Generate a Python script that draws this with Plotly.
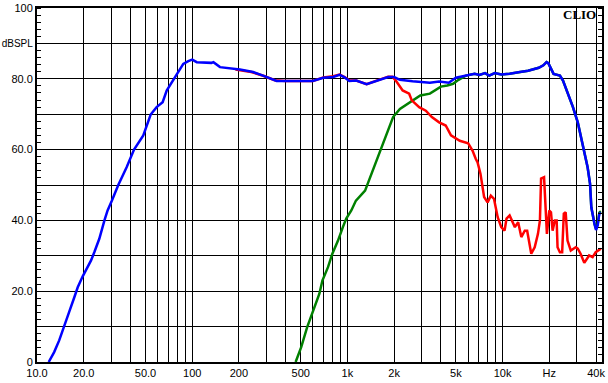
import plotly.graph_objects as go

# ---------------- data ----------------
blue_f = [11.9, 12.9, 13.9, 15.0, 16.1, 17.4, 18.3, 19.7, 20.7, 22.3, 23.4, 25.2, 27.2, 28.5, 30.4,
          33.4, 37.8, 42.2, 48.4, 54.0, 59.0, 64.5, 68.5, 76.3, 81.3, 87.6, 94.4, 100, 107, 133, 137,
          151, 203, 247, 286, 333, 350, 450, 597, 700, 810, 890, 960, 1030, 1140, 1330, 1540,
          1700, 1830, 2000, 2180, 2630, 3400, 3900, 4500, 5000, 5700, 6600, 7100, 7700, 8200,
          8900, 9800, 11100, 12900, 14600, 17100, 18300, 19200, 19700, 21300, 23400, 24500,
          26400, 28400, 30500, 32000, 33600, 35300, 36600, 37300, 39100, 40000, 41000, 42000, 43000]
blue_db = [0.0, 2.8, 6.1, 10.0, 14.1, 18.3, 21.1, 24.2, 25.9, 28.7, 31.0, 34.8, 40.0, 42.8, 45.6,
           50.0, 55.0, 60.0, 64.0, 69.9, 72.0, 73.4, 76.7, 80.0, 82.3, 84.2, 85.0, 85.4, 84.7, 84.5, 84.7,
           83.3, 82.6, 81.9, 80.9, 79.7, 79.4, 79.4, 79.4, 80.3, 80.5, 81.1, 80.4, 79.4, 79.5, 78.5, 79.5,
           80.0, 80.5, 80.5, 79.7, 79.3, 78.9, 79.2, 78.9, 80.3, 80.9, 81.4, 81.1, 81.6, 80.9,
           81.6, 81.2, 81.4, 81.9, 82.3, 83.1, 83.8, 84.7, 84.4, 81.4, 80.9, 79.5,
           75.8, 72.0, 67.7, 63.5, 59.7, 55.0, 50.3, 43.7, 39.0, 37.3, 38.6, 41.9, 42.2]

red_f = [190, 240, 290, 340, 400, 600, 700, 810, 890, 960, 1030, 1140, 1330, 1540, 1700, 1830,
         1950, 2050, 2270, 2500, 2600, 2900, 3200, 3500, 3900, 4100, 4300, 4650, 5300, 6000, 6400,
         6700, 6900, 7200, 7600, 8000, 8400, 8800, 9300, 9800, 10300, 10600, 11100, 12000, 12600,
         13200, 13900, 14400, 15300, 16100, 16900, 17400, 17700, 18500, 19000, 19300, 20000, 20500,
         21000, 21700, 22300, 22600, 23400, 24200, 24800, 25500, 26200, 27500, 29600, 30500, 31800,
         33600, 36100, 38000, 39800, 43000]
red_db = [82.6, 81.9, 80.8, 79.6, 79.4, 79.4, 80.4, 80.7, 81.2, 80.5, 79.5, 79.5, 78.5, 79.5, 80.0, 80.6,
          80.6, 79.5, 76.7, 75.8, 73.9, 72.0, 71.0, 69.2, 67.7, 67.3, 66.8, 64.0, 62.5, 61.8, 59.7,
          57.5, 56.4, 53.2, 46.6, 45.1, 47.0, 46.1, 40.9, 38.1, 37.1, 40.5, 41.4, 38.1, 39.5,
          35.3, 37.1, 37.1, 30.6, 32.4, 36.2, 40.0, 51.8, 52.2, 42.8, 36.2, 42.8, 42.3,
          37.1, 40.0, 40.0, 32.4, 31.0, 31.0, 41.9, 42.3, 34.3, 31.5, 32.4, 32.0, 30.6,
          28.0, 30.1, 29.6, 31.0, 32.0]

green_f = [464, 504, 550, 600, 660, 690, 750, 800, 870, 935, 983, 1060, 1135, 1300, 1540, 1790,
           1970, 2180, 2540, 2950, 3400, 3650, 4000, 4400, 4800, 5200, 5800, 6600, 7100, 7700,
           8200, 8900, 9800, 11100, 12900, 14600, 17100, 18300, 19200, 19700, 21300, 23400, 24500,
           26400, 28400, 30500, 32000, 33600, 35300, 36600, 37300, 39100, 40000, 41000, 42000, 43000]
green_db = [0.0, 4.2, 9.8, 14.5, 19.3, 23.0, 26.8, 30.6, 34.3, 38.1, 40.5, 42.8, 45.6, 48.4, 56.9, 64.0,
            69.2, 71.5, 73.4, 75.3, 75.8, 76.7, 77.8, 78.1, 78.6, 79.7, 80.9, 81.4, 81.1, 81.6,
            80.9, 81.6, 81.2, 81.4, 81.9, 82.3, 83.1, 83.8, 84.7, 84.4, 81.4, 80.9, 79.5,
            75.8, 72.0, 67.7, 63.5, 59.7, 55.0, 50.3, 43.7, 39.0, 37.6, 39.0, 42.2, 42.6]

x_tickvals = [10, 20, 30, 40, 50, 60, 70, 80, 90,
              100, 200, 300, 400, 500, 600, 700, 800, 900,
              1000, 2000, 3000, 4000, 5000, 6000, 7000, 8000, 9000,
              10000, 20000, 30000, 40000]
x_labels = {10: "10.0", 20: "20.0", 50: "50.0", 100: "100", 200: "200", 500: "500",
            1000: "1k", 2000: "2k", 5000: "5k", 10000: "10k", 20000: "Hz", 40000: "40k"}
y_tickvals = [0, 10, 20, 30, 40, 50, 60, 70, 80, 90, 100]
y_labels = {0: "0", 20: "20.0", 40: "40.0", 60: "60.0", 80: "80.0",
            90: '<span style="font-size:10px">dBSPL</span>', 100: "100"}

# ---------------- figure ----------------
fig = go.Figure()
fig.add_trace(go.Scatter(x=green_f, y=green_db, mode="lines",
                         line=dict(color="#008000", width=2.5), hoverinfo="skip"))
fig.add_trace(go.Scatter(x=red_f, y=red_db, mode="lines",
                         line=dict(color="#FF0000", width=2.5), hoverinfo="skip"))
fig.add_trace(go.Scatter(x=blue_f, y=blue_db, mode="lines",
                         line=dict(color="#0000FF", width=2.5), hoverinfo="skip"))
# dummy trace so the right-hand tick axis is drawn
fig.add_trace(go.Scatter(x=[None], y=[None], yaxis="y2", mode="lines", hoverinfo="skip"))

font = dict(family="Liberation Sans, Arial, sans-serif", size=11, color="black")

fig.update_layout(
    width=608, height=383,
    margin=dict(l=37, r=6, t=8, b=21, autoexpand=False),
    paper_bgcolor="white", plot_bgcolor="white",
    showlegend=False,
    font=font,
    xaxis=dict(
        type="log", range=[1, 4.6405], automargin=False,
        tickmode="array", tickvals=x_tickvals,
        ticktext=[x_labels.get(v, "") for v in x_tickvals],
        showgrid=True, gridcolor="black", gridwidth=1,
        showline=True, linecolor="black", linewidth=2, mirror=True,
        ticks="", zeroline=False, tickfont=font, tickangle=0,
    ),
    yaxis=dict(
        range=[0, 100], automargin=False,
        tickmode="array", tickvals=y_tickvals,
        ticktext=[y_labels.get(v, "") for v in y_tickvals],
        showgrid=True, gridcolor="black", gridwidth=1,
        showline=True, linecolor="black", linewidth=2, mirror=True,
        ticks="", zeroline=False, tickfont=font,
        minor=dict(dtick=2, ticks="inside", ticklen=4, tickcolor="black",
                   tickwidth=1, showgrid=False),
    ),
    yaxis2=dict(
        range=[0, 100], overlaying="y", side="right", automargin=False,
        showticklabels=False, showgrid=False, zeroline=False, showline=False,
        tickmode="array", tickvals=y_tickvals, ticks="",
        minor=dict(dtick=2, ticks="inside", ticklen=4, tickcolor="black",
                   tickwidth=1, showgrid=False),
    ),
    annotations=[dict(
        text="<b>CLIO</b>", xref="paper", yref="paper",
        x=0.993, y=0.983, xanchor="right", yanchor="middle", showarrow=False,
        font=dict(family="Liberation Serif, Times New Roman, serif", size=13, color="black"),
    )],
)

fig.write_html("out.html", config={"displayModeBar": False},
               post_script="document.body.style.margin='0px';")
